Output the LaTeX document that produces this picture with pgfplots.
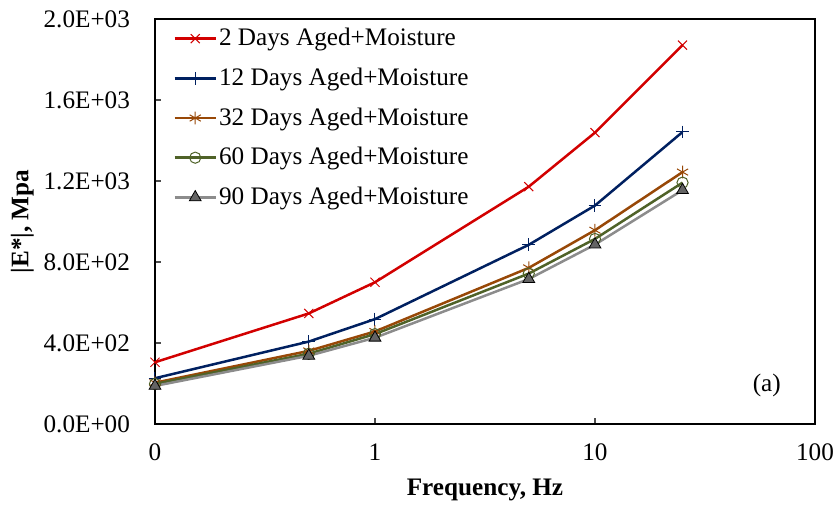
\documentclass[border=0pt]{standalone}
\usepackage{fontspec}
\setmainfont{Liberation Serif}
\usepackage{pgfplots}
\pgfplotsset{compat=1.18}
\definecolor{cRed}{RGB}{210,0,0}
\definecolor{cNavy}{RGB}{0,32,96}
\definecolor{cBrown}{RGB}{152,72,7}
\definecolor{cGreen}{RGB}{79,98,40}
\definecolor{cGreenFill}{RGB}{235,241,222}
\definecolor{cGray}{RGB}{140,140,140}
\definecolor{cGrayFill}{RGB}{100,100,100}
\begin{document}
\begin{tikzpicture}
\begin{axis}[
  scale only axis, width=330pt, height=202.5pt,
  at={(0,0)}, anchor=south west,
  xmode=log, log basis x=10,
  xmin=0.1, xmax=100, ymin=0, ymax=2000,
  xtick={0.1,1,10,100}, xticklabels={0,1,10,100},
  ytick={0,400,800,1200,1600,2000},
  yticklabels={0.0E+00,4.0E+02,8.0E+02,1.2E+03,1.6E+03,2.0E+03},
  xminorticks=false, yminorticks=false,
  tick align=inside, xtick pos=bottom, ytick pos=left,
  major tick length=3pt,
  axis line style={line width=0.9pt},
  tick style={line width=0.6pt, black!70},
  ticklabel style={font=\fontsize{12.6}{14}\selectfont},
  yticklabel style={xshift=-9pt},
  xticklabel style={yshift=-6.5pt},
  xlabel={\textbf{Frequency, Hz}},
  ylabel={\textbf{|E*|, Mpa}},
  label style={font=\fontsize{12.6}{14}\selectfont},
  xlabel style={yshift=-2pt},
  ylabel style={yshift=-2pt},
  legend cell align=left,
  legend style={at={(0,1)}, anchor=north west, draw=none, fill=none,
    font=\fontsize{12.6}{14}\selectfont, xshift=6pt, yshift=-1.5pt,
    row sep=7.6pt,
    nodes={inner sep=1pt}},
  legend image code/.code={\draw[mark repeat=2,mark phase=2,#1] plot coordinates {(0pt,0pt) (10.3pt,0pt) (20.6pt,0pt)};},
  every axis plot/.append style={line width=1.25pt},
]
\addplot[cRed, mark=x, mark size=3.2pt, mark options={line width=0.5pt}] coordinates {(0.1,305) (0.5,546) (1,700) (5,1172) (10,1439) (25,1871)};
\addlegendentry{2 Days Aged+Moisture}
\addplot[cNavy, mark=+, mark size=3.2pt, mark options={line width=0.5pt}] coordinates {(0.1,226) (0.5,407) (1,518) (5,885) (10,1079) (25,1442)};
\addlegendentry{12 Days Aged+Moisture}
\addplot[cBrown, mark=asterisk, mark size=3.2pt, mark options={line width=0.5pt}] coordinates {(0.1,204) (0.5,361) (1,457) (5,771) (10,957) (25,1244)};
\addlegendentry{32 Days Aged+Moisture}
\addplot[cGreen, mark=o, mark size=2.8pt, mark options={line width=0.5pt, fill=cGreenFill}] coordinates {(0.1,198) (0.5,347) (1,444) (5,743) (10,914) (25,1192)};
\addlegendentry{60 Days Aged+Moisture}
\addplot[cGray, mark=triangle*, mark size=3.4pt, mark options={line width=0.4pt, draw=black, fill=cGrayFill}] coordinates {(0.1,188) (0.5,337) (1,426) (5,716) (10,886) (25,1155)};
\addlegendentry{90 Days Aged+Moisture}
\node[font=\fontsize{12.6}{14}\selectfont] at (rel axis cs:0.927,0.095) {(a)};
\end{axis}
\pgfresetboundingbox
\path (-77.5pt,-40pt) rectangle (342pt,212pt);
\end{tikzpicture}
\end{document}
